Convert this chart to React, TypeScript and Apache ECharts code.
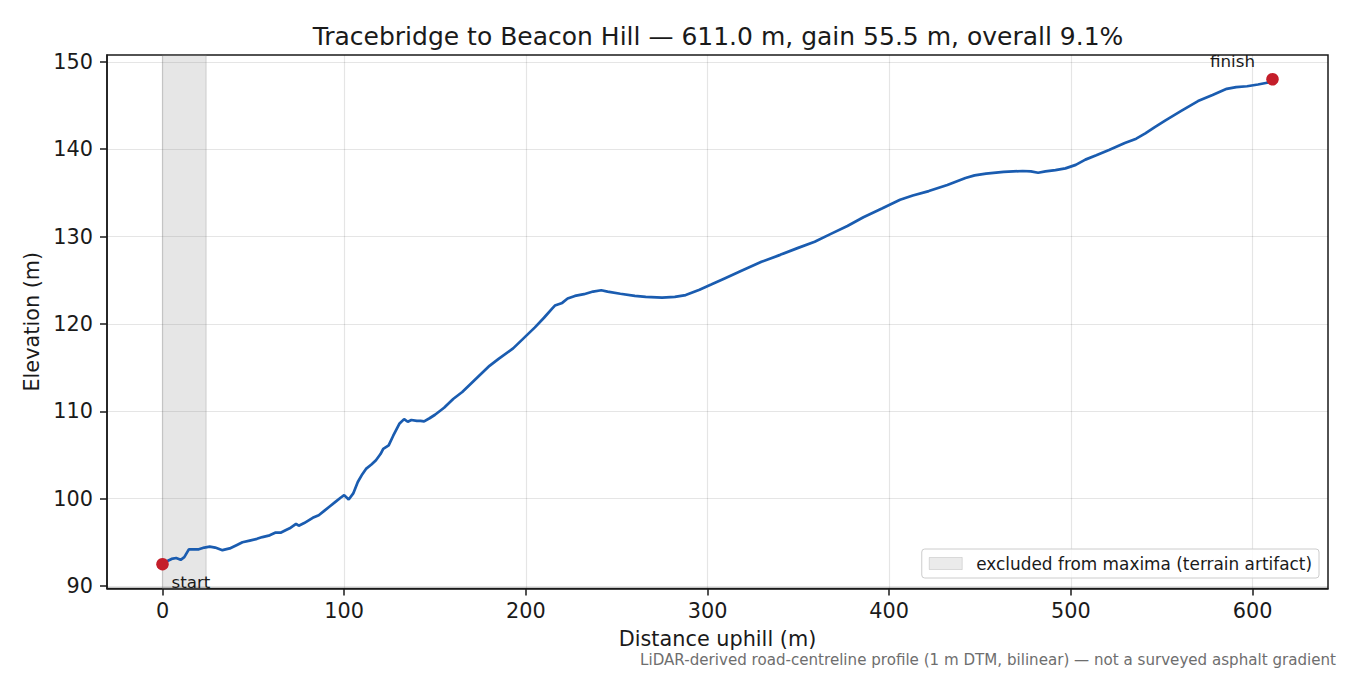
import { useEffect, useRef } from 'react';
import * as echarts from 'echarts';

// distance along the road (m) and elevation (m)
const distM = [
  0, 3, 5, 7.5, 10, 12, 14.5, 17, 20, 23, 26, 29, 33, 37, 41, 44, 48, 52, 55, 59,
  62, 65, 68, 70, 73.5, 75, 78, 82.7, 86, 89, 92, 95, 98, 100, 102.5, 105, 107.5, 110, 112, 115,
  117.5, 120, 121.5, 124.5, 127, 130.5, 133, 135, 137, 140, 142, 144, 147, 150, 155, 160, 165, 170, 176, 180,
  185, 193, 200, 205, 210, 214.7, 216, 220, 223, 227, 232, 237, 241.5, 245, 252, 260, 266, 275, 282, 288,
  295.6, 302, 309.4, 319, 329.7, 340, 349.9, 359, 367.9, 377, 385.8, 396, 406, 413, 421.8, 432, 442, 447, 453.3, 463,
  473.5, 478, 482, 486, 491.5, 497, 502.7, 508, 514, 521, 529.7, 536, 541, 546, 552.1, 561, 570, 578, 585.8, 591,
  597, 603, 608, 611,
];
const elevM = [
  92.5, 92.9, 93.1, 93.2, 93.0, 93.3, 94.2, 94.2, 94.2, 94.4, 94.5, 94.4, 94.1, 94.3, 94.7, 95.0, 95.2, 95.4, 95.6, 95.8,
  96.1, 96.1, 96.4, 96.6, 97.1, 96.9, 97.2, 97.8, 98.1, 98.6, 99.1, 99.6, 100.1, 100.4, 99.9, 100.6, 101.9, 102.8, 103.4, 103.9,
  104.4, 105.1, 105.7, 106.1, 107.2, 108.6, 109.1, 108.8, 109.0, 108.9, 108.9, 108.85, 109.2, 109.6, 110.4, 111.4, 112.2, 113.2, 114.4, 115.2,
  116.0, 117.2, 118.6, 119.6, 120.7, 121.8, 122.1, 122.4, 122.9, 123.2, 123.4, 123.7, 123.85, 123.7, 123.45, 123.2, 123.1, 123.0, 123.1, 123.3,
  123.9, 124.5, 125.2, 126.1, 127.1, 127.9, 128.7, 129.4, 130.3, 131.2, 132.2, 133.2, 134.2, 134.7, 135.2, 135.9, 136.7, 137.0, 137.2, 137.4,
  137.5, 137.45, 137.3, 137.45, 137.6, 137.8, 138.2, 138.8, 139.3, 139.9, 140.7, 141.2, 141.8, 142.5, 143.3, 144.4, 145.5, 146.2, 146.9, 147.1,
  147.2, 147.4, 147.6, 148.0,
];

const excludedZone = [0, 24];
const xTicks = [0, 100, 200, 300, 400, 500, 600];
const yTicks = [90, 100, 110, 120, 130, 140, 150];

const TITLE = 'Tracebridge to Beacon Hill — 611.0 m, gain 55.5 m, overall 9.1%';
const ZONE_LABEL = 'excluded from maxima (terrain artifact)';
const FOOTNOTE = 'LiDAR-derived road-centreline profile (1 m DTM, bilinear) — not a surveyed asphalt gradient';

const FONT = '"DejaVu Sans", sans-serif';
const INK = '#1a1a1a';

export default function App() {
  const chartRef = useRef<HTMLDivElement>(null);

  useEffect(() => {
    if (!chartRef.current) return;
    const chart = echarts.init(chartRef.current, undefined, { renderer: 'svg' });

    const line = distM.map((d, i) => [d, elevM[i]]);
    const last = distM.length - 1;
    const xPad = (distM[last] - distM[0]) * 0.05;
    const yMin = Math.min(...elevM);
    const yMax = Math.max(...elevM);
    const yPad = (yMax - yMin) * 0.05;

    const axisCommon = {
      type: 'value',
      axisLine: { show: true, onZero: false, lineStyle: { color: INK, width: 1.5 } },
      axisTick: { show: true, length: 7, lineStyle: { color: INK, width: 1.5 } },
      splitLine: { show: true, lineStyle: { color: 'rgba(0,0,0,0.1)', width: 1.2 } },
      nameLocation: 'middle',
      nameTextStyle: { fontFamily: FONT, fontSize: 20.8, color: INK },
    };

    const endLabel = { show: true, position: 'inside', fontFamily: FONT, fontSize: 16.7, color: INK };

    chart.setOption({
      animation: false,
      textStyle: { fontFamily: FONT },
      title: {
        text: TITLE,
        left: 713,
        top: 19,
        textAlign: 'center',
        textStyle: { fontFamily: FONT, fontSize: 25, fontWeight: 'normal', color: INK },
      },
      grid: {
        left: 107,
        right: 22,
        top: 55,
        bottom: 86.6,
        show: true,
        borderColor: INK,
        borderWidth: 1.5,
        backgroundColor: 'transparent',
      },
      xAxis: {
        ...axisCommon,
        min: distM[0] - xPad,
        max: distM[last] + xPad,
        name: 'Distance uphill (m)',
        nameGap: 40,
        axisTick: { ...axisCommon.axisTick, customValues: xTicks },
        axisLabel: { customValues: xTicks, margin: 12, fontFamily: FONT, fontSize: 20.8, color: INK },
      },
      yAxis: {
        ...axisCommon,
        min: yMin - yPad,
        max: yMax + yPad,
        name: 'Elevation (m)',
        nameGap: 61,
        axisTick: { ...axisCommon.axisTick, customValues: yTicks },
        axisLabel: { customValues: yTicks, margin: 14, fontFamily: FONT, fontSize: 20.8, color: INK },
      },
      legend: {
        data: [
          {
            name: ZONE_LABEL,
            icon: 'rect',
            itemStyle: { color: 'rgba(128,128,128,0.2)', borderColor: 'rgba(128,128,128,0.3)', borderWidth: 1 },
          },
        ],
        right: 31,
        bottom: 97,
        itemWidth: 33,
        itemHeight: 12,
        padding: [6, 7, 6, 7],
        backgroundColor: 'rgba(255,255,255,0.8)',
        borderColor: '#cccccc',
        borderWidth: 1,
        borderRadius: 3,
        textStyle: { fontFamily: FONT, fontSize: 16.9, color: INK, padding: [0, 0, 0, 9] },
      },
      series: [
        {
          name: ZONE_LABEL,
          type: 'scatter',
          data: [],
          silent: true,
          markArea: {
            silent: true,
            itemStyle: { color: 'rgba(128,128,128,0.2)', borderColor: 'rgba(128,128,128,0.25)', borderWidth: 1.2 },
            data: [[{ xAxis: excludedZone[0] }, { xAxis: excludedZone[1] }]],
          },
          z: 1,
        },
        {
          name: 'profile',
          type: 'line',
          data: line,
          symbol: 'none',
          lineStyle: { color: '#1a5cb0', width: 2.7 },
          z: 3,
        },
        {
          name: 'ends',
          type: 'scatter',
          symbolSize: 12.5,
          itemStyle: { color: '#c41e2a', opacity: 1 },
          z: 4,
          data: [
            {
              value: line[0],
              label: { ...endLabel, formatter: 'start', align: 'left', offset: [9, 18] },
            },
            {
              value: line[last],
              label: { ...endLabel, formatter: 'finish', align: 'center', offset: [-40, -18] },
            },
          ],
        },
      ],
      graphic: [
        {
          type: 'text',
          right: 14,
          top: 652,
          style: { text: FOOTNOTE, fontFamily: FONT, fontSize: 15.1, fill: '#6e6e6e' },
        },
      ],
    });

    return () => chart.dispose();
  }, []);

  return (
    <div
      ref={chartRef}
      style={{ position: 'fixed', left: 0, top: 0, width: 1350, height: 675, background: '#fff' }}
    />
  );
}
